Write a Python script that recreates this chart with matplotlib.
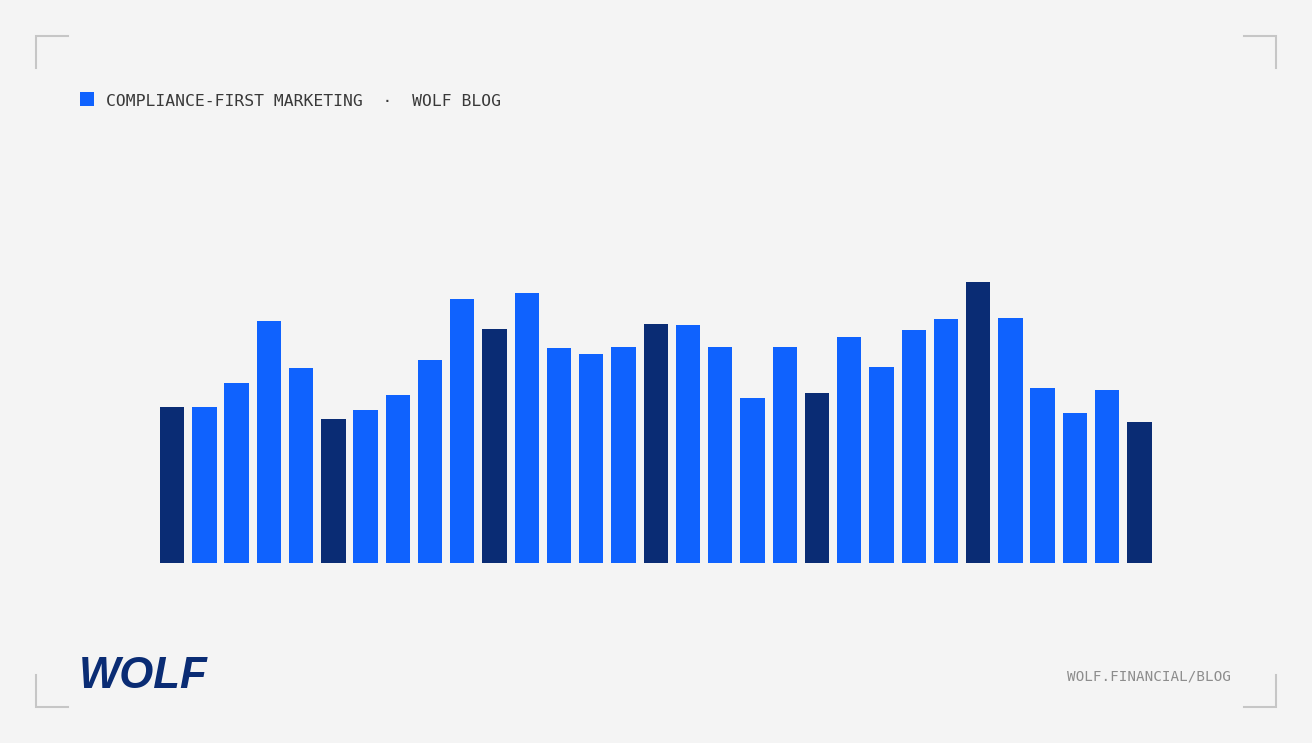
import matplotlib.pyplot as plt
from matplotlib.patches import Rectangle
import numpy as np

# bar heights (pixel units)
values = [156, 156, 180, 242, 195, 144, 153, 168, 203, 264, 234,
          270, 215, 209, 216, 239, 238, 216, 165, 216, 170, 226,
          196, 233, 244, 281, 245, 175, 150, 173, 141]
highlight = [0, 5, 10, 15, 20, 25, 30]  # dark bars
header = "COMPLIANCE-FIRST MARKETING  \u00b7  WOLF BLOG"
footer = "WOLF.FINANCIAL/BLOG"
logo = "WOLF"

BG = "#f4f4f4"
BLUE = "#0f62fe"
NAVY = "#0a2c74"
W, H = 1312, 743

fig = plt.figure(figsize=(W / 100, H / 100), dpi=100, facecolor=BG)

# bar chart
ax = fig.add_axes([160 / W, (H - 563) / H, 991.5 / W, 300 / H])
ax.set_facecolor(BG)
x = np.arange(len(values))
colors = [NAVY if i in highlight else BLUE for i in x]
ax.bar(x, values, width=0.754, color=colors, linewidth=0)
ax.set_xlim(-0.377, len(values) - 1 + 0.377)
ax.set_ylim(0, 300)
ax.axis("off")

# overlay in pixel coords for decorations
ov = fig.add_axes([0, 0, 1, 1], facecolor="none")
ov.set_xlim(0, W)
ov.set_ylim(H, 0)
ov.axis("off")

# corner brackets
gray = "#c6c6c6"
for cx, cy, dx, dy in [(36, 36, 1, 1), (1276, 36, -1, 1),
                       (36, 707, 1, -1), (1276, 707, -1, -1)]:
    ov.plot([cx + 32 * dx, cx, cx], [cy, cy, cy + 32 * dy],
            color=gray, lw=1.5, solid_joinstyle="miter")

ov.add_patch(Rectangle((80, 92), 14, 14, color=BLUE, lw=0))
ov.text(106, 106, header, family="DejaVu Sans Mono", fontsize=11.8,
        color="#393939", va="baseline", ha="left")
ov.text(1231, 680, footer, family="DejaVu Sans Mono", fontsize=10.3,
        color="#8d8d8d", va="baseline", ha="right")
ov.text(79, 688, logo, family="Liberation Sans", fontweight="bold",
        fontstyle="italic", fontsize=31.5, color=NAVY, va="baseline", ha="left")

fig.savefig("out.png", dpi=100, facecolor=BG)
